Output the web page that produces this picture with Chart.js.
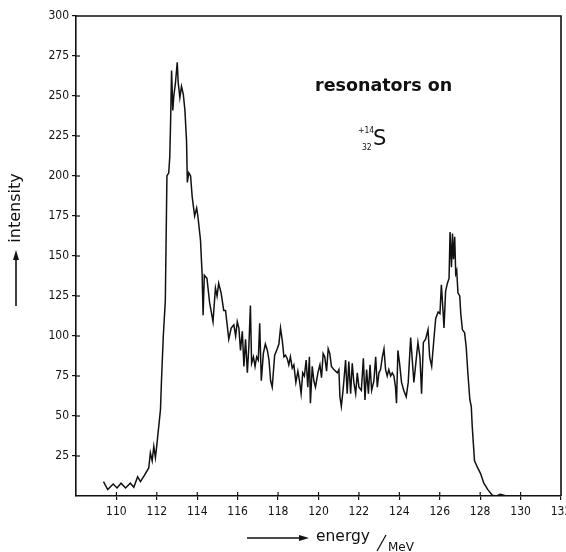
<!DOCTYPE html>
<html>
<head>
<meta charset="utf-8">
<script src="https://cdn.jsdelivr.net/npm/chart.js@4.4.1/dist/chart.umd.min.js"></script>
<style>
  html, body { margin: 0; padding: 0; background: #fff; }
  #wrap { width: 566px; height: 552px; }
</style>
</head>
<body>
<div id="wrap"><canvas id="spectrum" width="566" height="552"></canvas></div>
<script>
// energy axis values (MeV)
const energy = [
  109.36,109.57,109.84,110.03,110.23,110.45,110.69,110.86,111.05,111.19,
  111.39,111.60,111.68,111.77,111.85,111.93,112.01,112.18,112.23,112.32,
  112.42,112.50,112.59,112.64,112.68,112.73,112.79,112.84,112.92,113.01,
  113.06,113.14,113.22,113.31,113.39,113.47,113.51,113.58,113.67,113.75,
  113.87,113.97,114.03,114.16,114.24,114.29,114.35,114.48,114.61,114.78,
  114.90,114.98,115.06,115.18,115.31,115.40,115.56,115.68,115.81,115.90,
  115.98,116.06,116.14,116.23,116.31,116.39,116.48,116.56,116.63,116.69,
  116.78,116.86,116.94,117.02,117.09,117.17,117.27,117.37,117.47,117.55,
  117.63,117.71,117.83,117.96,118.04,118.12,118.21,118.29,118.37,118.45,
  118.53,118.61,118.70,118.78,118.88,118.98,119.06,119.14,119.22,119.30,
  119.39,119.47,119.55,119.60,119.69,119.77,119.85,119.97,120.07,120.15,
  120.23,120.31,120.40,120.48,120.56,120.64,120.76,120.93,121.01,121.06,
  121.13,121.23,121.34,121.42,121.50,121.59,121.67,121.75,121.84,121.92,
  122.00,122.12,122.22,122.30,122.38,122.47,122.55,122.63,122.74,122.83,
  122.91,122.99,123.07,123.16,123.24,123.32,123.40,123.48,123.57,123.65,
  123.73,123.81,123.86,123.93,124.01,124.11,124.22,124.34,124.44,124.56,
  124.64,124.72,124.80,124.92,125.02,125.10,125.19,125.30,125.42,125.50,
  125.60,125.71,125.80,125.92,126.01,126.08,126.16,126.21,126.29,126.38,
  126.46,126.51,126.58,126.63,126.68,126.74,126.79,126.84,126.90,126.99,
  127.04,127.12,127.23,127.31,127.39,127.49,127.56,127.61,127.72,127.86,
  128.02,128.18,128.38,128.60,128.80,129.00,129.30,130.50
];

// counts at each energy
const intensity = [
  9,4,7.5,5,8,5,8,5.5,12,9,
  13,17.5,27,22,31,24,33,54,72,100,
  122,200,202,212,233,266,241,250,258,271,
  258,249,256,251,241,222,196,202,200,187,
  175,180,175,160,139,113,138,136,121,109,
  130,125,133,127,116,116,98,105,107,100,
  109,105,91,103,81,98,77,95,119,83,
  87,81,87,85,108,72,89,95,91,85,
  72,68,88,92,95,105,97,87,88,86,
  82,87,80,82,71,78,72,64,77,75,
  85,68,87,58,81,72,68,77,82,74,
  89,87,78,92,89,81,79,77,79,62,
  56,68,85,64,84,64,83,71,64,77,
  68,66,86,60,79,64,82,66,72,87,
  68,77,79,87,92,79,75,79,75,77,
  75,68,58,91,83,71,66,62,71,99,
  85,71,81,96,87,64,96,98,104,87,
  81,98,111,115,114,132,116,105,128,133,
  136,165,143,164,148,162,139,141,127,125,
  114,104,102,93,77,60,56,43,22,18,
  14,8,4,0.5,0,1,0,0
];

const xTicks = [110,112,114,116,118,120,122,124,126,128,130,132];
const yTicks = [25,50,75,100,125,150,175,200,225,250,275,300];

const INK = '#111';
const tickFont = { family: "'Liberation Sans Narrow', 'DejaVu Sans Condensed', sans-serif", size: 12 };

function arrow(ctx, x1, y1, x2, y2) {
    const ang = Math.atan2(y2 - y1, x2 - x1);
    ctx.beginPath();
    ctx.moveTo(x1, y1);
    ctx.lineTo(x2 - 6 * Math.cos(ang), y2 - 6 * Math.sin(ang));
    ctx.stroke();
    ctx.save();
    ctx.translate(x2, y2);
    ctx.rotate(ang);
    ctx.beginPath();
    ctx.moveTo(0, 0);
    ctx.lineTo(-10, -3);
    ctx.lineTo(-10, 3);
    ctx.closePath();
    ctx.fill();
    ctx.restore();
}

// frame, inner tick halves and the hand lettering
const plotDecor = {
    id: 'plotDecor',
    afterDraw(chart) {
        const { ctx, chartArea: a, scales: { x, y } } = chart;
        ctx.save();
        ctx.strokeStyle = INK;
        ctx.fillStyle = INK;
        ctx.lineWidth = 1.6;
        ctx.beginPath();
        ctx.moveTo(a.left, a.top);
        ctx.lineTo(a.right, a.top);
        ctx.lineTo(a.right, a.bottom);
        ctx.stroke();

        ctx.lineWidth = 1.2;
        x.ticks.forEach(t => {
            if (t.value <= x.min || t.value >= x.max) return;
            const px = x.getPixelForValue(t.value);
            ctx.beginPath(); ctx.moveTo(px, a.bottom); ctx.lineTo(px, a.bottom - 4); ctx.stroke();
        });
        y.ticks.forEach(t => {
            if (t.value <= y.min || t.value >= y.max) return;
            const py = y.getPixelForValue(t.value);
            ctx.beginPath(); ctx.moveTo(a.left, py); ctx.lineTo(a.left + 4, py); ctx.stroke();
        });

        // annotation
        ctx.textBaseline = 'alphabetic';
        ctx.textAlign = 'left';
        ctx.font = "bold 17.5px 'DejaVu Sans', sans-serif";
        ctx.fillText('resonators on', 315, 91);
        ctx.font = "21px 'DejaVu Sans', sans-serif";
        ctx.fillText('S', 373, 145);
        ctx.font = "8.5px 'DejaVu Sans Condensed', sans-serif";
        ctx.fillText('+14', 358, 133);
        ctx.fillText('32', 362, 150);

        // y title
        ctx.save();
        ctx.translate(20, 208);
        ctx.rotate(-Math.PI / 2);
        ctx.textAlign = 'center';
        ctx.font = "16px 'DejaVu Sans', sans-serif";
        ctx.fillText('intensity', 0, 0);
        ctx.restore();
        ctx.lineWidth = 1.6;
        arrow(ctx, 16, 306, 16, 250);

        // x title
        arrow(ctx, 247, 538, 309, 538);
        ctx.font = "15.5px 'DejaVu Sans', sans-serif";
        ctx.fillText('energy', 316, 541);
        ctx.lineWidth = 1.3;
        ctx.beginPath(); ctx.moveTo(377, 551); ctx.lineTo(386, 535); ctx.stroke();
        ctx.font = "12px 'DejaVu Sans', sans-serif";
        ctx.fillText('MeV', 388, 551);
        ctx.restore();
    }
};

const points = energy.map((e, i) => ({ x: e, y: intensity[i] }));

new Chart(document.getElementById('spectrum'), {
    type: 'line',
    data: {
        datasets: [{
            data: points,
            borderColor: INK,
            borderWidth: 1.5,
            pointRadius: 0,
            tension: 0,
            fill: false
        }]
    },
    options: {
        responsive: false,
        animation: false,
        events: [],
        layout: { autoPadding: false, padding: { left: 0, top: 16, right: 5, bottom: 0 } },
        plugins: { legend: { display: false }, tooltip: { enabled: false } },
        scales: {
            x: {
                type: 'linear',
                min: 108,
                max: 132,
                afterFit: s => { s.height = 56; s.paddingLeft = 0; s.paddingRight = 0; },
                afterBuildTicks: s => { s.ticks = xTicks.map(v => ({ value: v })); },
                border: { display: true, color: INK, width: 1.6 },
                grid: { drawOnChartArea: false, drawTicks: true, tickLength: 4, color: INK, lineWidth: 1.2 },
                ticks: { color: INK, font: tickFont, padding: 5, maxRotation: 0, autoSkip: false, callback: v => v }
            },
            y: {
                type: 'linear',
                min: 0,
                max: 300,
                afterFit: s => { s.width = 76; },
                afterBuildTicks: s => { s.ticks = yTicks.map(v => ({ value: v })); },
                border: { display: true, color: INK, width: 1.6 },
                grid: { drawOnChartArea: false, drawTicks: true, tickLength: 4, color: INK, lineWidth: 1.2 },
                ticks: { color: INK, font: tickFont, padding: 3, autoSkip: false, callback: v => v }
            }
        }
    },
    plugins: [plotDecor]
});
</script>
</body>
</html>
